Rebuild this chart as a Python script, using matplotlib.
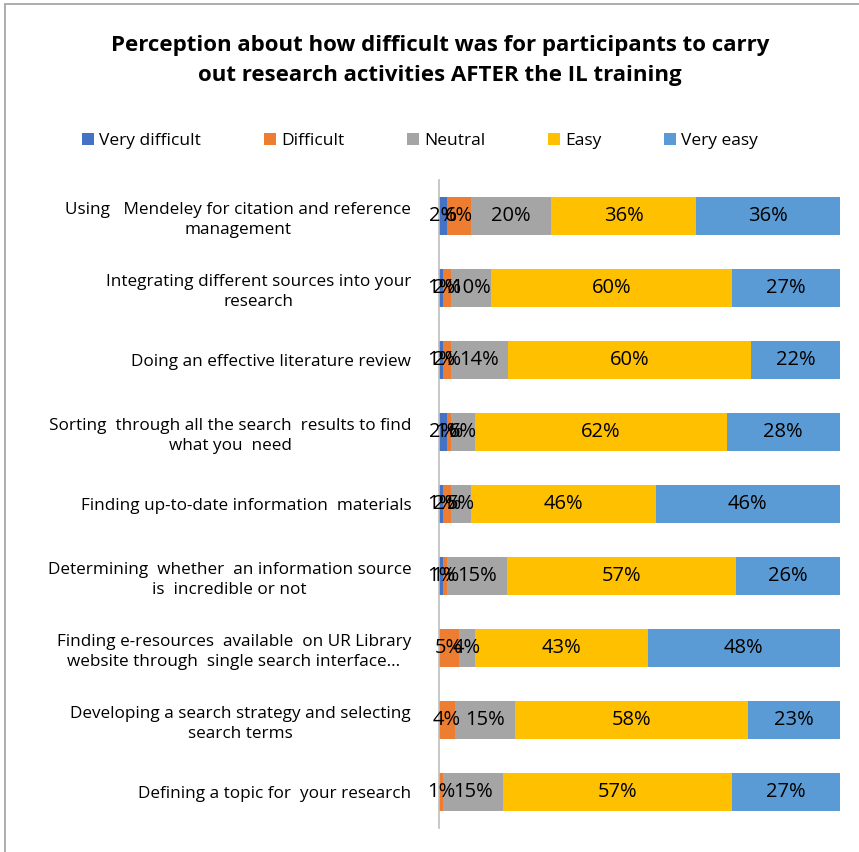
import matplotlib
matplotlib.use("Agg")
import matplotlib.pyplot as plt
from matplotlib.patches import Rectangle
import numpy as np

plt.rcParams['font.family'] = ['Open Sans', 'DejaVu Sans']

categories = [
    "Using   Mendeley for citation and reference\nmanagement",
    "Integrating different sources into your\nresearch",
    "Doing an effective literature review",
    "Sorting  through all the search  results to find\nwhat you  need",
    "Finding up-to-date information  materials",
    "Determining  whether  an information source\nis  incredible or not",
    "Finding e-resources  available  on UR Library\nwebsite through  single search interface...",
    "Developing a search strategy and selecting\nsearch terms",
    "Defining a topic for  your research",
]
series_names = ["Very difficult", "Difficult", "Neutral", "Easy", "Very easy"]
very_difficult = [2, 1, 1, 2, 1, 1, 0, 0, 0]
difficult      = [6, 2, 2, 1, 2, 1, 5, 4, 1]
neutral        = [20, 10, 14, 6, 5, 15, 4, 15, 15]
easy           = [36, 60, 60, 62, 46, 57, 43, 58, 57]
very_easy      = [36, 27, 22, 28, 46, 26, 48, 23, 27]
colors = ["#4472C4", "#ED7D31", "#A5A5A5", "#FFC000", "#5B9BD5"]

data = np.array([very_difficult, difficult, neutral, easy, very_easy], dtype=float)
# 100% stacked: each row fills the full width
shares = data / data.sum(axis=0) * 100

fig = plt.figure(figsize=(8.59, 8.52), dpi=100)
fig.patches.append(Rectangle((5/859, -0.01), 1.1, 1 - 4/852 + 0.01, transform=fig.transFigure,
                             fill=False, edgecolor="#A0A0A0", linewidth=1.2))

ax = fig.add_axes([439/859, 1 - 828/852, (840 - 439)/859, 648/852])
y = np.arange(len(categories))
left = np.zeros(len(categories))
for name, vals, shr, c in zip(series_names, data, shares, colors):
    ax.barh(y, shr, left=left, height=0.54, color=c, label=name)
    for yi, (l, v, s) in enumerate(zip(left, vals, shr)):
        if v > 0:
            ax.text(l + s / 2, yi, f"{int(v)}%", ha="center", va="center",
                    fontsize=14.5, color="black")
    left += shr

ax.set_xlim(0, 100)
ax.set_ylim(len(categories) - 0.5, -0.5)
ax.set_yticks(y)
ax.set_yticklabels(categories, fontsize=12.3, multialignment="center", linespacing=1.35)
ax.tick_params(axis="y", length=0, pad=20)
ax.set_xticks([])
for s in ["top", "right", "bottom"]:
    ax.spines[s].set_visible(False)
ax.spines["left"].set_color("#BFBFBF")
ax.spines["left"].set_linewidth(1.2)

fig.text(440/859, 1 - 45/852, "Perception about how difficult was for participants to carry",
         ha="center", va="center", fontsize=16, fontweight="bold")
fig.text(440/859, 1 - 75/852, "out research activities AFTER the IL training",
         ha="center", va="center", fontsize=16, fontweight="bold")

handles, labels = ax.get_legend_handles_labels()
fig.legend(handles, labels, loc="center", bbox_to_anchor=(420/859, 1 - 141/852), ncol=5,
           frameon=False, fontsize=12.5, handlelength=0.7, handleheight=0.7,
           columnspacing=3.6, handletextpad=0.3)

fig.savefig("out.png", dpi=100)
